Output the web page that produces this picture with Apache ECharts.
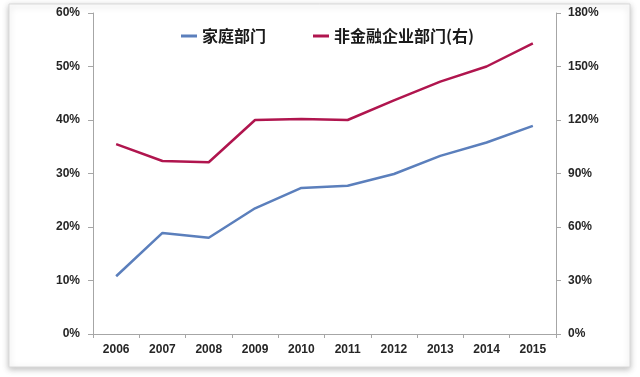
<!DOCTYPE html>
<html><head><meta charset="utf-8">
<script src="https://cdn.jsdelivr.net/npm/echarts@6/dist/echarts.min.js"></script>
<style>html,body{margin:0;padding:0;background:#fff}#c{width:640px;height:377px}</style>
</head><body><div id="c"></div>
<script>
const years = ['2006','2007','2008','2009','2010','2011','2012','2013','2014','2015'];
const household = [10.8, 18.9, 18.0, 23.5, 27.3, 27.7, 29.9, 33.3, 35.8, 38.9];
const nonFinCorp = [106.5, 97, 96.3, 120, 120.6, 120, 131, 141.5, 150, 163];
const leftTicks = [0, 60, 10];
const rightTicks = [0, 180, 30];

const chart = echarts.init(document.getElementById('c'));
const axisColor = '#a6a6a6';
const lblStyle = {color:'#262626', fontWeight:'bold', fontSize:12, fontFamily:'Liberation Sans, Arial, sans-serif'};
chart.setOption({
  backgroundColor:'#fff',
  animation:false,
  graphic:[
    {type:'rect', shape:{x:9,y:4,width:621,height:363}, style:{fill:'#fff', stroke:'#d9d9d9', lineWidth:1, shadowBlur:6, shadowColor:'rgba(0,0,0,0.25)', shadowOffsetX:0, shadowOffsetY:2}, z:-10}
  ],
  legend:{
    top:23, left:176, itemGap:47, itemWidth:16, itemHeight:3,
    icon:'rect',
    textStyle:{color:'#1a1a1a', fontWeight:'bold', fontSize:16, fontFamily:'Noto Sans CJK SC, sans-serif'},
    data:['家庭部门','非金融企业部门(右)']
  },
  grid:{left:93, right:84, top:13, bottom:43},
  xAxis:{
    type:'category', data:years, boundaryGap:true,
    axisLine:{lineStyle:{color:axisColor}},
    axisTick:{show:true, length:4, lineStyle:{color:axisColor}},
    axisLabel:Object.assign({margin:10}, lblStyle)
  },
  yAxis:[
    {type:'value', min:leftTicks[0], max:leftTicks[1], interval:leftTicks[2], position:'left',
     axisLine:{show:true, lineStyle:{color:axisColor}},
     axisTick:{show:true, length:5, lineStyle:{color:axisColor}},
     splitLine:{show:false},
     axisLabel:Object.assign({formatter:'{value}%', margin:13}, lblStyle)},
    {type:'value', min:rightTicks[0], max:rightTicks[1], interval:rightTicks[2], position:'right',
     axisLine:{show:true, lineStyle:{color:axisColor}},
     axisTick:{show:true, length:5, lineStyle:{color:axisColor}},
     splitLine:{show:false},
     axisLabel:Object.assign({formatter:'{value}%', margin:12}, lblStyle)}
  ],
  series:[
    {name:'家庭部门', type:'line', yAxisIndex:0, data:household, showSymbol:false, symbol:'none',
     lineStyle:{color:'#5b7fbc', width:2.5}, itemStyle:{color:'#5b7fbc'}},
    {name:'非金融企业部门(右)', type:'line', yAxisIndex:1, data:nonFinCorp, showSymbol:false, symbol:'none',
     lineStyle:{color:'#b0154e', width:2.5}, itemStyle:{color:'#b0154e'}}
  ]
});
</script></body></html>
